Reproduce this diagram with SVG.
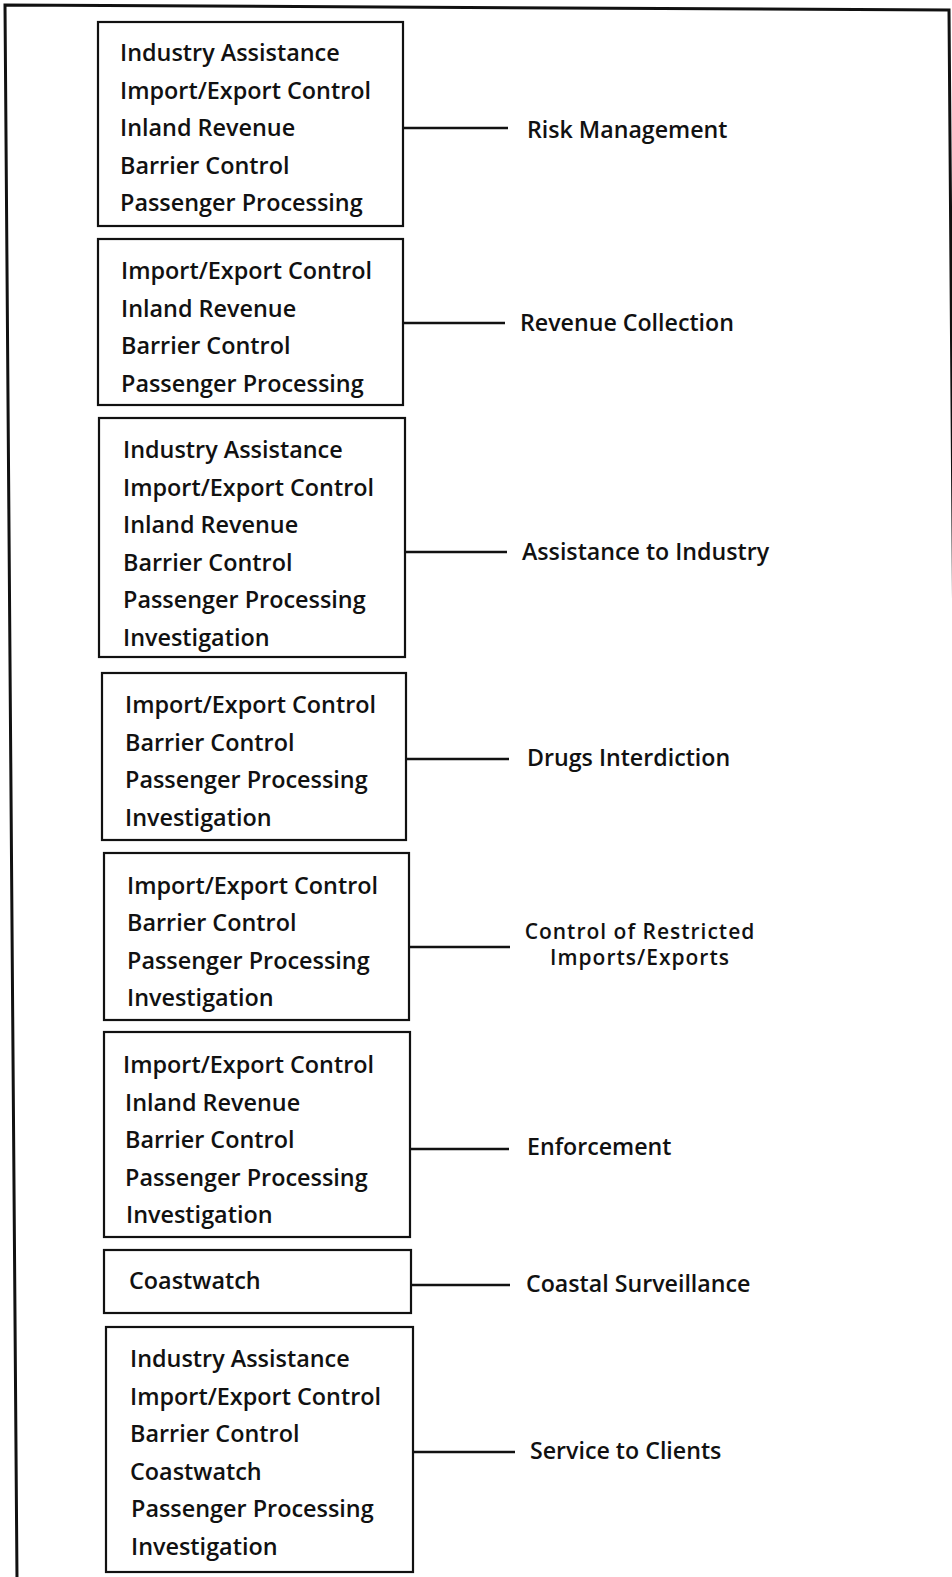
<svg xmlns="http://www.w3.org/2000/svg" width="952" height="1577" viewBox="0 0 952 1577">
<style>
.box{fill:#fff;stroke:#111;stroke-width:2.2}
.t{font-family:"Open Sans","Liberation Sans",sans-serif;font-weight:600;font-size:23.4px;fill:#111}
.lbl{font-family:"Open Sans","Liberation Sans",sans-serif;font-weight:600;font-size:23.2px;fill:#111}
.lbl2{font-family:"Open Sans","Liberation Sans",sans-serif;font-weight:600;font-size:21px;letter-spacing:1px;fill:#111;text-anchor:middle}
.c{stroke:#111;stroke-width:2.6;fill:none}
.frame{stroke:#111;stroke-width:3;fill:none}
</style>
<rect width="952" height="1577" fill="#fff"/>
<path class="frame" d="M17,1580 L5,5 L949,10 L961,1580"/>
<g id="connectors">
<line class="c" x1="403" y1="128" x2="508" y2="128"/>
<line class="c" x1="403" y1="323" x2="505" y2="323"/>
<line class="c" x1="405" y1="552" x2="507" y2="552"/>
<line class="c" x1="406" y1="759" x2="509" y2="759"/>
<line class="c" x1="409" y1="947" x2="510" y2="947"/>
<line class="c" x1="410" y1="1149" x2="509" y2="1149"/>
<line class="c" x1="412" y1="1285" x2="510" y2="1285"/>
<line class="c" x1="413" y1="1452" x2="515" y2="1452"/>
</g>
<g id="box1">
<rect class="box" x="98" y="22" width="305" height="204"/>
<text class="t" x="120" y="61">Industry Assistance</text>
<text class="t" x="120" y="98.5">Import/Export Control</text>
<text class="t" x="120" y="136">Inland Revenue</text>
<text class="t" x="120" y="173.5">Barrier Control</text>
<text class="t" x="120" y="211">Passenger Processing</text>
</g>
<g id="box2">
<rect class="box" x="98" y="239" width="305" height="166"/>
<text class="t" x="121" y="279">Import/Export Control</text>
<text class="t" x="121" y="316.5">Inland Revenue</text>
<text class="t" x="121" y="354">Barrier Control</text>
<text class="t" x="121" y="391.5">Passenger Processing</text>
</g>
<g id="box3">
<rect class="box" x="99" y="418" width="306" height="239"/>
<text class="t" x="123" y="458">Industry Assistance</text>
<text class="t" x="123" y="495.5">Import/Export Control</text>
<text class="t" x="123" y="533">Inland Revenue</text>
<text class="t" x="123" y="570.5">Barrier Control</text>
<text class="t" x="123" y="608">Passenger Processing</text>
<text class="t" x="123" y="645.5">Investigation</text>
</g>
<g id="box4">
<rect class="box" x="102" y="673" width="304" height="167"/>
<text class="t" x="125" y="713">Import/Export Control</text>
<text class="t" x="125" y="750.5">Barrier Control</text>
<text class="t" x="125" y="788">Passenger Processing</text>
<text class="t" x="125" y="825.5">Investigation</text>
</g>
<g id="box5">
<rect class="box" x="104" y="853" width="305" height="167"/>
<text class="t" x="127" y="893.5">Import/Export Control</text>
<text class="t" x="127" y="931">Barrier Control</text>
<text class="t" x="127" y="968.5">Passenger Processing</text>
<text class="t" x="127" y="1006">Investigation</text>
</g>
<g id="box6">
<rect class="box" x="104" y="1032" width="306" height="205"/>
<text class="t" x="123" y="1073">Import/Export Control</text>
<text class="t" x="125" y="1110.5">Inland Revenue</text>
<text class="t" x="125" y="1148">Barrier Control</text>
<text class="t" x="125" y="1185.5">Passenger Processing</text>
<text class="t" x="126" y="1223">Investigation</text>
</g>
<g id="box7">
<rect class="box" x="104" y="1250" width="307" height="63"/>
<text class="t" x="129" y="1289">Coastwatch</text>
</g>
<g id="box8">
<rect class="box" x="106" y="1327" width="307" height="245"/>
<text class="t" x="130" y="1367">Industry Assistance</text>
<text class="t" x="130" y="1404.5">Import/Export Control</text>
<text class="t" x="130" y="1442">Barrier Control</text>
<text class="t" x="130" y="1479.5">Coastwatch</text>
<text class="t" x="131" y="1517">Passenger Processing</text>
<text class="t" x="131" y="1554.5">Investigation</text>
</g>
<g id="labels">
<text id="risk" class="lbl" x="527" y="138">Risk Management</text>
<text id="revenue" class="lbl" x="520" y="331">Revenue Collection</text>
<text id="assist" class="lbl" x="522" y="560">Assistance to Industry</text>
<text id="drugs" class="lbl" x="527" y="766">Drugs Interdiction</text>
<g id="restricted">
<text class="lbl2" x="640" y="939">Control of Restricted</text>
<text class="lbl2" x="640" y="965">Imports/Exports</text>
</g>
<text id="enforce" class="lbl" x="527" y="1155">Enforcement</text>
<text id="coastal" class="lbl" x="526" y="1292">Coastal Surveillance</text>
<text id="service" class="lbl" x="530" y="1459">Service to Clients</text>
</g>
</svg>
